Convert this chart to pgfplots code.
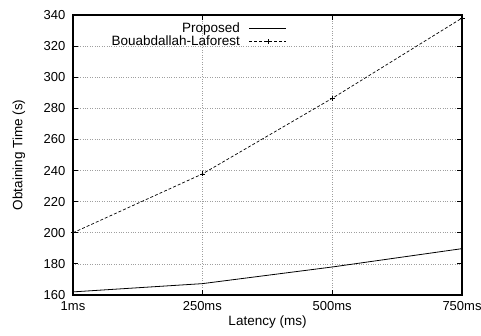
\documentclass[border=0pt]{standalone}
\usepackage{fontspec}
\setmainfont{Liberation Sans}
\usepackage{pgfplots}
\pgfplotsset{compat=1.18}
\pgfplotsset{
  longline/.style={legend image code/.code={\draw[##1] (0cm,0cm) -- (1.3cm,0cm);}},
  longmark/.style={legend image code/.code={\draw[mark repeat=2,mark phase=2,##1] plot coordinates {(0cm,0cm) (0.65cm,0cm) (1.3cm,0cm)};}},
}
\begin{document}
\fontsize{13.5}{15}\selectfont
\begin{tikzpicture}
\useasboundingbox (-73pt,-41pt) rectangle (408pt,295pt);
\begin{axis}[
  at={(0pt,0pt)}, anchor=south west,
  scale only axis, width=389pt, height=280pt,
  xmin=1, xmax=750, ymin=160, ymax=340,
  xtick={1,250,500,750}, xticklabels={1ms,250ms,500ms,750ms},
  ytick={160,180,...,340},
  /pgf/number format/assume math mode=true,
  tick label style={font=\fontsize{13}{15}\selectfont},
  xlabel={Latency (ms)}, ylabel={Obtaining Time (s)},
  every axis x label/.style={at={(axis description cs:0.5,0)}, anchor=center, yshift=-27pt, font=\fontsize{13.5}{15}\selectfont},
  every axis y label/.style={at={(axis description cs:-0.139,0.5)}, anchor=center, rotate=90, font=\fontsize{13.5}{15}\selectfont},
  xticklabel style={yshift=-2pt},
  yticklabel style={xshift=-3pt},
  grid=major, major grid style={gray!75, dotted, line width=0.6pt},
  tick align=inside, major tick length=5pt,
  tick style={black, line width=0.8pt},
  axis line style={line width=1.1pt},
  legend style={draw=none, fill=none, inner sep=0pt, at={(axis description cs:0.5501,0.98)}, anchor=north east,
    font=\fontsize{13.5}{15}\selectfont, row sep=-3pt, /tikz/column 1/.style={column sep=7pt}},
  legend cell align=right, legend plot pos=right,
]
\addplot[black, line width=0.8pt, longline]
  coordinates {(1,162) (250,167.3) (500,178) (750,189.8)};
\addlegendentry{Proposed}
\addplot[black, densely dashed, line width=0.7pt, mark=+, mark size=2.5pt, mark options={solid}, longmark]
  coordinates {(1,200) (250,237.8) (500,286.4) (750,338)};
\addlegendentry{Bouabdallah-Laforest}
\end{axis}
\end{tikzpicture}
\end{document}
